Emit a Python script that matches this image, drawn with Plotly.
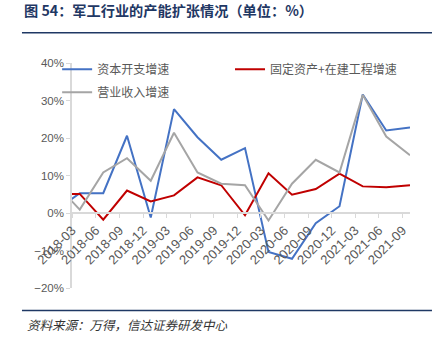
import plotly.graph_objects as go

# ---- data ----
dates = ["2017-12-31", "2018-03-31", "2018-06-30", "2018-09-30", "2018-12-31",
         "2019-03-31", "2019-06-30", "2019-09-30", "2019-12-31",
         "2020-03-31", "2020-06-30", "2020-09-30", "2020-12-31",
         "2021-03-31", "2021-06-30", "2021-09-30"]
capex_growth = [0.8, 5.3, 5.3, 20.6, -1.2, 27.7, 20.2, 14.2, 17.3,
                -10.4, -12.2, -2.7, 1.8, 31.6, 22.0, 22.8]
fixed_asset_growth = [5.1, 5.1, -1.8, 6.0, 3.1, 4.7, 9.5, 7.4, -0.6,
                      10.6, 4.9, 6.4, 10.5, 7.1, 6.9, 7.4]
revenue_growth = [7.5, 0.9, 10.8, 14.6, 8.6, 21.4, 10.8, 7.8, 7.4,
                  -2.0, 7.8, 14.2, 10.8, 31.5, 20.4, 15.4]
tick_labels = ["2018-03", "2018-06", "2018-09", "2018-12", "2019-03", "2019-06",
               "2019-09", "2019-12", "2020-03", "2020-06", "2020-09", "2020-12",
               "2021-03", "2021-06", "2021-09"]
series_names = ["资本开支增速", "固定资产+在建工程增速", "营业收入增速"]
title_text = "图 54：军工行业的产能扩张情况（单位：%）"
source_text = "资料来源：万得，信达证券研发中心"

tick_vals = [t + "-01" for t in tick_labels]

BLUE = "#4472C4"
RED = "#C00000"
GRAY = "#A5A5A5"
NAVY = "#1F3864"
AXIS = "#D9D9D9"
TXT = "#595959"
CJK = "Noto Sans CJK SC"

fig = go.Figure()
fig.add_trace(go.Scatter(x=dates, y=capex_growth, mode="lines", name=series_names[0],
                         line=dict(color=BLUE, width=2), legend="legend"))
fig.add_trace(go.Scatter(x=dates, y=fixed_asset_growth, mode="lines", name=series_names[1],
                         line=dict(color=RED, width=2), legend="legend2"))
fig.add_trace(go.Scatter(x=dates, y=revenue_growth, mode="lines", name=series_names[2],
                         line=dict(color=GRAY, width=2), legend="legend3"))

leg_font = dict(family=CJK, size=12, color=TXT)
fig.update_layout(
    width=440, height=351,
    margin=dict(l=72, r=30, t=63, b=62.5),
    paper_bgcolor="white", plot_bgcolor="white",
    showlegend=True,
    legend=dict(x=-0.044, y=0.972, xanchor="left", yanchor="middle", font=leg_font,
                bgcolor="rgba(0,0,0,0)"),
    legend2=dict(x=0.4675, y=0.972, xanchor="left", yanchor="middle", font=leg_font,
                 bgcolor="rgba(0,0,0,0)"),
    legend3=dict(x=-0.044, y=0.870, xanchor="left", yanchor="middle", font=leg_font,
                 bgcolor="rgba(0,0,0,0)"),
    xaxis=dict(type="date", range=["2018-03-01", "2021-09-30"],
               tickvals=tick_vals, ticktext=tick_labels, tickangle=-45,
               anchor="free", position=1/3,
               showline=True, linecolor=AXIS, linewidth=1.5,
               ticks="outside", ticklen=4, tickcolor=AXIS,
               showgrid=False, zeroline=False,
               tickfont=dict(family="Liberation Sans", size=13, color=TXT)),
    yaxis=dict(range=[-20, 40], dtick=10, ticksuffix="%",
               showline=True, linecolor=AXIS, linewidth=1.5,
               ticks="outside", ticklen=4, tickcolor=AXIS,
               showgrid=False, zeroline=False,
               tickfont=dict(family="Liberation Sans", size=11.5, color=TXT)),
)

# title, rules and source
fig.add_annotation(xref="paper", yref="paper", x=-0.148, y=1.0, yshift=53,
                   xanchor="left", yanchor="middle", showarrow=False,
                   text="<b>" + title_text + "</b>",
                   font=dict(family=CJK, size=14.2, color=NAVY))
fig.add_shape(type="line", xref="paper", yref="paper", x0=-0.148, x1=1.065,
              y0=1.134, y1=1.134, line=dict(color=NAVY, width=1.5))
fig.add_shape(type="line", xref="paper", yref="paper", x0=-0.148, x1=1.065,
              y0=-0.1, y1=-0.1, line=dict(color=NAVY, width=1.5))
fig.add_annotation(xref="paper", yref="paper", x=-0.14, y=-0.1, yshift=-14,
                   xanchor="left", yanchor="middle", showarrow=False,
                   text=source_text,
                   font=dict(family=CJK, size=12.5, color="#333333", style="italic"))

fig.write_html("out.html")
